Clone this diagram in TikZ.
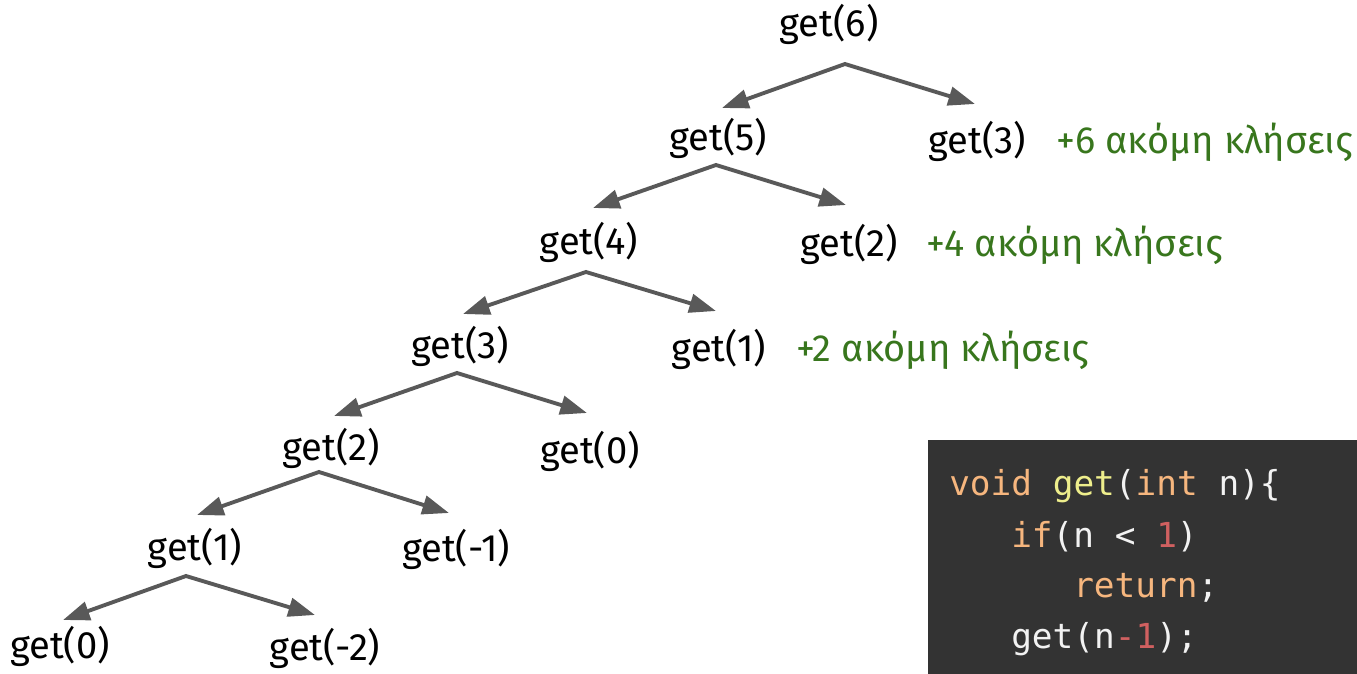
\documentclass[tikz,border=0pt]{standalone}
\usepackage{fontspec}
\setmainfont{Fira Sans}
\setmonofont{DejaVu Sans Mono}
\usetikzlibrary{arrows.meta}

\definecolor{edgegray}{HTML}{595959}
\definecolor{notegreen}{HTML}{38761D}
\definecolor{codebg}{HTML}{333333}
\definecolor{kworange}{HTML}{F6B67E}
\definecolor{fnyellow}{HTML}{EEEE8C}
\definecolor{codewhite}{HTML}{F2F2F2}
\definecolor{numred}{HTML}{D06060}

\tikzset{
  call/.style={inner sep=0pt, anchor=base, font=\fontsize{28.6}{33}\selectfont},
  note/.style={inner sep=0pt, anchor=base west, text=notegreen, font=\fontsize{28.4}{33}\selectfont},
  fork/.style={draw=edgegray, line width=2.9pt, line join=miter,
    {Triangle[length=20pt,width=14pt]}-{Triangle[length=20pt,width=14pt]}},
  codeline/.style={inner sep=0pt, anchor=base west, text=codewhite,
    font=\ttfamily\fontsize{25.8}{30}\selectfont},
}

\begin{document}
\begin{tikzpicture}[x=0.75pt,y=-0.75pt]
\useasboundingbox (0,0) rectangle (1357,674);

% code panel
\fill[codebg] (928,440) rectangle (1357,674);
\node[codeline] (c1) at (949,495) {\textcolor{kworange}{void} \textcolor{fnyellow}{get}(\textcolor{kworange}{int} n)\{};
\node[codeline] (c2) at (1011,547) {\textcolor{kworange}{if}(n < \textcolor{numred}{1})};
\node[codeline] (c3) at (1073,597) {\textcolor{kworange}{return};};
\node[codeline] (c4) at (1011,648) {get(n\textcolor{numred}{-1});};

% call tree
\node[call] (g6)  at (829,37)  {get(6)};
\node[call] (g5)  at (718,151) {get(5)};
\node[call] (g3r) at (977,153) {get(3)};
\node[call] (g4)  at (589,254) {get(4)};
\node[call] (g2r) at (849,256) {get(2)};
\node[call] (g3)  at (460,358) {get(3)};
\node[call] (g1r) at (719,361) {get(1)};
\node[call] (g2)  at (331,460) {get(2)};
\node[call] (g0r) at (590,463) {get(0)};
\node[call] (g1)  at (195,560) {get(1)};
\node[call] (gm1) at (456,561) {get(-1)};
\node[call] (g0)  at (60,658)  {get(0)};
\node[call] (gm2) at (325,660) {get(-2)};

% extra-call notes
\node[note] (n6) at (1056,153) {+6 ακόμη κλήσεις};
\node[note] (n4) at (926,256)  {+4 ακόμη κλήσεις};
\node[note] (n2) at (796,361)  {+2 ακόμη κλήσεις};

% fork points and arrow tips
\coordinate (s6) at (845,64);  \coordinate (s6l) at (722,108); \coordinate (s6r) at (975,104);
\coordinate (s5) at (716,165); \coordinate (s5l) at (593,208); \coordinate (s5r) at (846,205);
\coordinate (s4) at (586,272); \coordinate (s4l) at (463,314); \coordinate (s4r) at (716,311);
\coordinate (s3) at (457,373); \coordinate (s3l) at (334,416); \coordinate (s3r) at (587,413);
\coordinate (s2) at (319,472); \coordinate (s2l) at (197,515); \coordinate (s2r) at (449,513);
\coordinate (s1) at (186,576); \coordinate (s1l) at (63,620);  \coordinate (s1r) at (315,615);

\foreach \k in {6,5,4,3,2,1}
  \draw[fork] (s\k l) -- (s\k) -- (s\k r);
\end{tikzpicture}
\end{document}
